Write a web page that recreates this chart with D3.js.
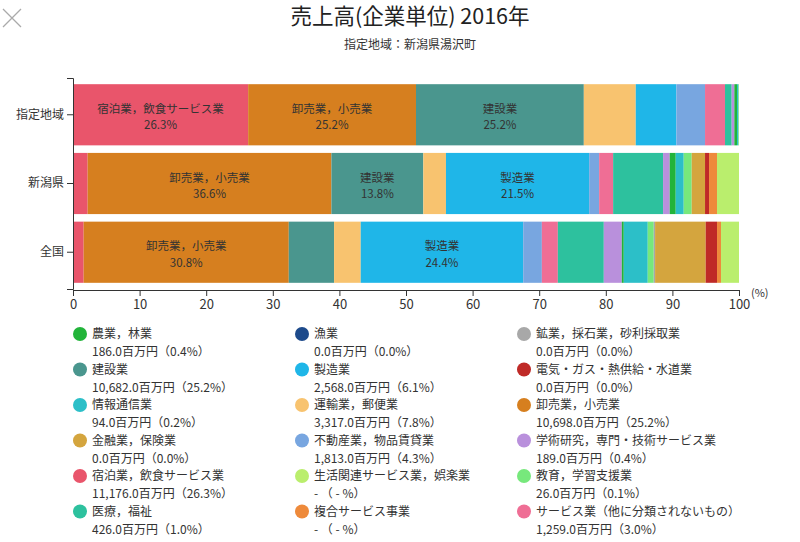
<!DOCTYPE html>
<html><head><meta charset="utf-8">
<script src="https://cdn.jsdelivr.net/npm/d3@7"></script>
<style>
body{margin:0;background:#fff;}
svg{display:block;font-family:"Noto Sans CJK JP","Noto Sans",sans-serif;}
</style></head><body>
<svg id="c" width="800" height="542"></svg>
<script>
const title = "売上高(企業単位) 2016年";
const subtitle = "指定地域：新潟県湯沢町";
const regions = ["指定地域", "新潟県", "全国"];
const industries = ["農業，林業","漁業","鉱業，採石業，砂利採取業","建設業","製造業","電気・ガス・熱供給・水道業","情報通信業","運輸業，郵便業","卸売業，小売業","金融業，保険業","不動産業，物品賃貸業","学術研究，専門・技術サービス業","宿泊業，飲食サービス業","生活関連サービス業，娯楽業","教育，学習支援業","医療，福祉","複合サービス事業","サービス業（他に分類されないもの）"];
const colors = ["#22b43a","#1d4a8b","#a8a8a8","#4a968e","#1fb6e8","#bf2a27","#2cbfc8","#f8c36f","#d67f1f","#d4a53e","#78a6e0","#b990dc","#e9556b","#baee6d","#77e87c","#2dc19e","#ee8a3b","#ef6e95"];
// share (%) per region, in legend order
const valsShitei = [0.4,0,0,25.2,6.1,0,0.2,7.8,25.2,0,4.3,0.4,26.3,0,0.1,1.0,0,3.0];
const valsNiigata = [0.9,0,0,13.8,21.5,0.6,1.2,3.4,36.6,2.0,1.5,1.0,2.2,3.3,1.2,7.5,1.2,2.1];
const valsZenkoku = [0.3,0,0.2,6.8,24.4,1.7,3.6,4.0,30.8,7.6,2.8,2.7,1.6,2.7,0.9,6.9,0.6,2.4];
const legendAmounts = ["186.0百万円（0.4%）","0.0百万円（0.0%）","0.0百万円（0.0%）","10,682.0百万円（25.2%）","2,568.0百万円（6.1%）","0.0百万円（0.0%）","94.0百万円（0.2%）","3,317.0百万円（7.8%）","10,698.0百万円（25.2%）","0.0百万円（0.0%）","1,813.0百万円（4.3%）","189.0百万円（0.4%）","11,176.0百万円（26.3%）","- （ - %）","26.0百万円（0.1%）","426.0百万円（1.0%）","- （ - %）","1,259.0百万円（3.0%）"];
const stackOrder = ["宿泊業，飲食サービス業","卸売業，小売業","建設業","運輸業，郵便業","製造業","不動産業，物品賃貸業","サービス業（他に分類されないもの）","医療，福祉","学術研究，専門・技術サービス業","農業，林業","情報通信業","教育，学習支援業","漁業","鉱業，採石業，砂利採取業","金融業，保険業","電気・ガス・熱供給・水道業","複合サービス事業","生活関連サービス業，娯楽業"];
const xTicks = [0,10,20,30,40,50,60,70,80,90,100];

const svg = d3.select("#c");
const allVals = [valsShitei, valsNiigata, valsZenkoku];
const table = regions.map((r,i)=>{const o={region:r}; industries.forEach((k,j)=>o[k]=allVals[i][j]); return o;});
const color = d3.scaleOrdinal().domain(industries).range(colors);

// close icon
svg.append("path").attr("d","M3,9L21,27M21,9L3,27").attr("stroke","#aaa").attr("stroke-width",1.3).attr("fill","none");

svg.append("text").attr("x",410).attr("y",24).attr("text-anchor","middle").attr("font-size",21.5).attr("fill","#222").text(title);
svg.append("text").attr("x",410).attr("y",49).attr("text-anchor","middle").attr("font-size",12).attr("fill","#333").text(subtitle);

const x = d3.scaleLinear().domain([0,100]).range([73,739]);
const y = d3.scaleBand().domain(regions).range([78,289]).paddingInner(0.11).paddingOuter(0.09);

const series = d3.stack().keys(stackOrder)(table);
const g = svg.append("g");
series.forEach(s=>{
  g.selectAll(null).data(s).join("rect")
    .attr("x",d=>x(d[0])).attr("y",d=>y(d.data.region))
    .attr("width",d=>Math.max(0,x(d[1])-x(d[0]))).attr("height",y.bandwidth())
    .attr("fill",color(s.key));
  const big = s.filter(d=>d[1]-d[0]>10);
  g.selectAll(null).data(big).join("text")
    .attr("text-anchor","middle").attr("font-size",11.5).attr("fill","#333")
    .attr("x",d=>(x(d[0])+x(d[1]))/2).attr("y",d=>y(d.data.region)+y.bandwidth()/2-2)
    .text(s.key);
  g.selectAll(null).data(big).join("text")
    .attr("text-anchor","middle").attr("font-size",11.5).attr("fill","#333")
    .attr("x",d=>(x(d[0])+x(d[1]))/2).attr("y",d=>y(d.data.region)+y.bandwidth()/2+14.5)
    .text(d=>(d[1]-d[0]).toFixed(1)+"%");
});

const ya = svg.append("g").attr("transform","translate(73,0)").call(d3.axisLeft(y).tickSize(6).tickSizeOuter(6));
ya.selectAll("text").attr("font-size",12).attr("fill","#333").attr("font-family","Noto Sans CJK JP");
ya.selectAll("path,line").attr("stroke","#333");

const xa = svg.append("g").attr("transform","translate(0,290)").call(d3.axisBottom(x).tickValues(xTicks).tickSize(6).tickSizeOuter(0));
xa.selectAll("text").attr("font-size",13).attr("fill","#333").attr("font-family","Noto Sans CJK JP").attr("dy","0.75em");
xa.selectAll("path,line").attr("stroke","#333");
svg.append("text").attr("x",751).attr("y",297).attr("font-size",11).attr("fill","#333").text("(%)");

// legend
const colX = [80, 302, 524];
const lg = svg.append("g");
industries.forEach((name,i)=>{
  const cx = colX[i%3], cy = 334 + Math.floor(i/3)*35.5;
  lg.append("circle").attr("cx",cx).attr("cy",cy).attr("r",7).attr("fill",colors[i]);
  lg.append("text").attr("x",cx+12).attr("y",cy+4).attr("font-size",12).attr("fill","#333").text(name);
  lg.append("text").attr("x",cx+12).attr("y",cy+22).attr("font-size",12).attr("fill","#333").text(legendAmounts[i]);
});
</script>
</body></html>
